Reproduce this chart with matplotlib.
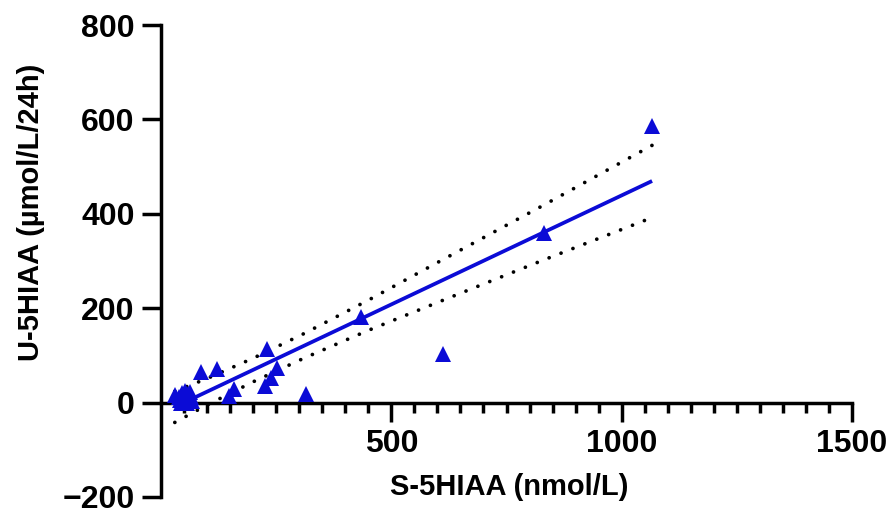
import matplotlib
matplotlib.use("Agg")
import matplotlib.pyplot as plt
import numpy as np

# ---- data ----
s_5hiaa = [1066, 832, 612, 434, 231, 251, 239, 226, 314, 158, 147, 87, 121,
           31, 38, 42, 45, 48, 50, 52, 55, 58, 60, 62, 65, 68, 44, 56]
u_5hiaa = [585, 360, 102, 181, 113, 73, 52, 36, 19, 28, 14, 64, 71,
           16, 12, 5, 20, 14, 2, 24, 10, 18, 6, 22, 12, 4, 0, 0]

fit_x = [31, 1066]
fit_y = [-8.7, 469.5]

band_x = [30, 100, 200, 310, 450, 610, 830, 1066]
band_upper = [24, 51, 94, 146, 217, 302, 418, 545]
band_lower = [-42, -5, 44, 94, 153, 216, 302, 392]

x_major = [500, 1000, 1500]
x_labels = ["500", "1000", "1500"]
y_major = [-200, 0, 200, 400, 600, 800]
y_labels = ["\u2212200", "0", "200", "400", "600", "800"]

plt.rcParams['font.family'] = ['Liberation Sans', 'DejaVu Sans']
plt.rcParams['font.weight'] = 'bold'

fig = plt.figure(figsize=(8.94, 5.22), dpi=100)
ax = fig.add_axes([161/894, (522-497)/522, (852-161)/894, (497-25)/522])

blue = '#0b0bd6'
dots = (0, (0.01, 3.4))
ax.plot(band_x, band_upper, color='black', lw=2.7, linestyle=dots,
        dash_capstyle='round', zorder=2, clip_on=False)
ax.plot(band_x, band_lower, color='black', lw=2.7, linestyle=dots,
        dash_capstyle='round', zorder=2, clip_on=False)
ax.plot(fit_x, fit_y, color=blue, lw=2.7, solid_capstyle='butt', zorder=3)
ax.plot(s_5hiaa, u_5hiaa, linestyle='none', marker='^', markersize=12,
        color=blue, markeredgewidth=0, zorder=4, clip_on=False)

ax.set_xlim(0, 1500)
ax.set_ylim(-200, 800)
ax.spines['top'].set_visible(False)
ax.spines['right'].set_visible(False)
ax.spines['bottom'].set_position(('data', 0))
for sp in ('left', 'bottom'):
    ax.spines[sp].set_linewidth(2.5)
    ax.spines[sp].set_capstyle('projecting')

ax.set_xticks(x_major)
ax.set_xticklabels(x_labels)
ax.set_xticks(np.arange(50, 1500, 50), minor=True)
ax.set_yticks(y_major)
ax.set_yticklabels(y_labels)

ax.tick_params(axis='both', which='major', length=14, width=2.5, labelsize=23, pad=5)
ax.tick_params(axis='x', which='minor', length=7.5, width=2.5)
ax.tick_params(axis='y', which='minor', length=0)
for lab in ax.get_xticklabels() + ax.get_yticklabels():
    lab.set_fontweight('bold')

fig.text(509/894, 1 - 487/522, "S-5HIAA (nmol/L)", ha='center', va='center',
         fontsize=21, fontweight='bold')
fig.text(31/894, 1 - 212/522, "U-5HIAA (\u00b5mol/L/24h)", ha='center', va='center',
         rotation=90, fontsize=21, fontweight='bold')

fig.savefig("out.png", dpi=100)
